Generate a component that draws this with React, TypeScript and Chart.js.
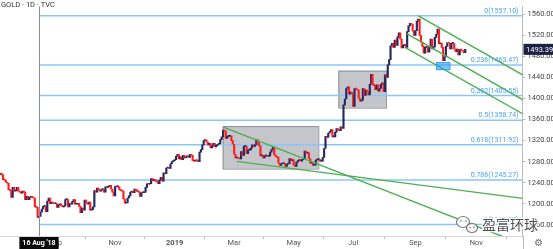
import React, { useEffect, useRef } from "react";
import { Chart, registerables } from "chart.js";

Chart.register(...registerables);

// ---------------- data ----------------
const SYMBOL_TITLE = "GOLD · 1D · TVC";
const START_DATE = "2018-07-09"; // first daily bar (weekdays only)
const FIRST_OPEN = 1256;
// daily closes, one per weekday from START_DATE
const CLOSES: number[] = [
  1258, 1255, 1246, 1245, 1241,
  1239, 1227, 1225, 1212, 1231,
  1224, 1225, 1231, 1224, 1222,
  1220, 1224, 1222, 1208, 1214,
  1208, 1212, 1213, 1212, 1211,
  1194, 1193, 1174, 1176, 1184,
  1190, 1195, 1195, 1185, 1205,
  1211, 1200, 1203, 1201, 1200,
  1200, 1193, 1198, 1200, 1196,
  1194, 1196, 1208, 1208, 1194,
  1201, 1199, 1204, 1208, 1199,
  1199, 1201, 1195, 1183, 1192,
  1188, 1207, 1202, 1199, 1203,
  1188, 1189, 1194, 1225, 1222,
  1230, 1226, 1224, 1227, 1227,
  1222, 1232, 1231, 1233, 1235,
  1228, 1222, 1215, 1233, 1232,
  1232, 1227, 1225, 1224, 1209,
  1201, 1202, 1211, 1215, 1222,
  1223, 1221, 1228, 1226, 1223,
  1222, 1214, 1221, 1221, 1222,
  1231, 1238, 1237, 1238, 1248,
  1244, 1246, 1243, 1242, 1238,
  1245, 1250, 1243, 1259, 1257,
  1268, 1269, 1267, 1276, 1280,
  1282, 1284, 1290, 1294, 1285,
  1289, 1284, 1292, 1287, 1289,
  1291, 1288, 1294, 1292, 1282,
  1281, 1283, 1282, 1280, 1298,
  1303, 1312, 1320, 1321, 1317,
  1312, 1315, 1306, 1310, 1315,
  1308, 1311, 1313, 1314, 1322,
  1327, 1340, 1338, 1324, 1328,
  1328, 1329, 1320, 1313, 1294,
  1287, 1287, 1286, 1285, 1299,
  1292, 1309, 1309, 1295, 1302,
  1302, 1306, 1312, 1309, 1312,
  1322, 1316, 1310, 1291, 1292,
  1287, 1291, 1291, 1290, 1291,
  1298, 1303, 1308, 1293, 1290,
  1288, 1277, 1273, 1276, 1276,
  1277, 1271, 1275, 1276, 1286,
  1282, 1284, 1273, 1271, 1279,
  1282, 1284, 1281, 1284, 1285,
  1300, 1296, 1297, 1286, 1277,
  1277, 1273, 1274, 1283, 1284,
  1284, 1281, 1281, 1288, 1305,
  1328, 1326, 1334, 1337, 1341,
  1327, 1327, 1336, 1343, 1341,
  1339, 1346, 1343, 1388, 1399,
  1419, 1422, 1408, 1412, 1409,
  1385, 1419, 1418, 1416, 1400,
  1395, 1397, 1419, 1406, 1416,
  1413, 1407, 1427, 1446, 1426,
  1425, 1417, 1426, 1414, 1419,
  1427, 1430, 1413, 1445, 1440,
  1464, 1474, 1500, 1505, 1497,
  1511, 1501, 1517, 1525, 1513,
  1496, 1501, 1503, 1497, 1527,
  1538, 1543, 1541, 1528, 1520,
  1529, 1547, 1551, 1520, 1507,
  1499, 1486, 1497, 1498, 1488,
  1498, 1513, 1494, 1498, 1516,
  1522, 1532, 1504, 1505, 1497,
  1472, 1479, 1499, 1506, 1505,
  1494, 1505, 1505, 1494, 1489,
  1494, 1483, 1493, 1492, 1490,
  1487, 1493.39,
];
const LAST_PRICE = 1493.39;

const FIB_RATIOS = ["0", "0.236", "0.382", "0.5", "0.618", "0.786", "1"];
const FIB_PRICES = [1557.1, 1463.47, 1405.55, 1358.74, 1311.92, 1245.27, 1160.37];
const FIB_START_DATE = "2018-08-16";

const CROSSHAIR_DATE = "2018-08-16";
const CROSSHAIR_LABEL = "16 Aug '18";

const PRICE_TICKS = [1160, 1200, 1240, 1280, 1320, 1360, 1400, 1440, 1480, 1520, 1560];
const TIME_TICK_DATES = ["2018-09-03", "2018-11-01", "2019-01-01", "2019-03-01", "2019-05-01", "2019-07-01", "2019-09-02", "2019-11-01"];
const TIME_TICK_LABELS = ["Sep", "Nov", "2019", "Mar", "May", "Jul", "Sep", "Nov"];

// trend lines: [bar, price, bar, price]
const WEDGE_UPPER = [161.2, 1345.7, 377.7, 1122.7];
const WEDGE_LOWER = [170.8, 1280.5, 377.7, 1210.3];
const CHANNEL_UPPER = [301.8, 1557.3, 377.7, 1444.6];
const CHANNEL_MID = [293.7, 1523.1, 377.7, 1397.4];
const CHANNEL_LOWER = [292.4, 1497.2, 377.7, 1370.7];

// rectangles: [bar1, price1, bar2, price2]
const GRAY_BOXES = [
  [160.7, 1347.6, 229.8, 1266.8],
  [244.3, 1452.9, 278.7, 1382.7],
];
const BLUE_BOX = [315.3, 1468.2, 324.9, 1454.7];

const WATERMARK = "盈富环球";

// axis ranges
const X_MIN = -0.18;
const X_MAX = 377.35;
const Y_MIN = 1138.75;
const Y_MAX = 1574.8;

// ---------------- styles ----------------
const UP = "#262a5e";
const DOWN = "#ff1e1e";
const FIB_COLOR = "rgba(140,198,248,1)";
const FIB_TEXT = "#4aa3ef";
const GREEN = "#4caf50";
const FONT = "Roboto, 'Liberation Sans', sans-serif";

function barIndex(dateStr: string): number {
  const start = Date.parse(START_DATE + "T00:00:00Z");
  const end = Date.parse(dateStr + "T00:00:00Z");
  let n = 0;
  for (let t = start; t < end; t += 86400000) {
    const wd = new Date(t).getUTCDay();
    if (wd !== 0 && wd !== 6) n++;
  }
  return n;
}

const decor = {
  id: "decor",
  beforeDatasetsDraw(chart: any) {
    const { ctx, chartArea: a, scales } = chart;
    const x = scales.x, y = scales.y;
    ctx.save();
    ctx.beginPath();
    ctx.rect(a.left, a.top, a.right - a.left, a.bottom - a.top);
    ctx.clip();
    for (const b of GRAY_BOXES) {
      const x1 = x.getPixelForValue(b[0]), x2 = x.getPixelForValue(b[2]);
      const y1 = y.getPixelForValue(b[1]), y2 = y.getPixelForValue(b[3]);
      ctx.fillStyle = "rgba(150,152,160,0.55)";
      ctx.fillRect(x1, y1, x2 - x1, y2 - y1);
      ctx.strokeStyle = "rgba(135,137,145,0.9)";
      ctx.lineWidth = 1;
      ctx.strokeRect(x1 + 0.5, y1 + 0.5, x2 - x1, y2 - y1);
    }
    ctx.restore();
  },
  afterDatasetsDraw(chart: any) {
    const { ctx, chartArea: a, scales } = chart;
    const x = scales.x, y = scales.y;
    ctx.save();
    // blue box
    {
      const b = BLUE_BOX;
      const x1 = x.getPixelForValue(b[0]), x2 = x.getPixelForValue(b[2]);
      const y1 = y.getPixelForValue(b[1]), y2 = y.getPixelForValue(b[3]);
      ctx.fillStyle = "rgba(33,150,243,0.55)";
      ctx.fillRect(x1, y1, x2 - x1, y2 - y1);
      ctx.strokeStyle = "rgba(33,150,243,0.9)";
      ctx.lineWidth = 1;
      ctx.strokeRect(x1, y1, x2 - x1, y2 - y1);
    }
    // crosshair
    const cx = Math.round(x.getPixelForValue(barIndex(CROSSHAIR_DATE))) + 0.5;
    ctx.strokeStyle = "#8a8d96";
    ctx.lineWidth = 1;
    ctx.beginPath();
    ctx.moveTo(cx, a.top);
    ctx.lineTo(cx, a.bottom);
    ctx.stroke();
    // fib labels
    ctx.font = `7px ${FONT}`;
    ctx.fillStyle = FIB_TEXT;
    ctx.textAlign = "right";
    ctx.textBaseline = "bottom";
    FIB_RATIOS.forEach((r, i) => {
      const py = y.getPixelForValue(FIB_PRICES[i]);
      ctx.fillText(`${r}(${FIB_PRICES[i].toFixed(2)})`, a.right - 4, py - 1);
    });
    ctx.restore();
  },
  afterDraw(chart: any) {
    const { ctx, chartArea: a, scales, width, height } = chart;
    const x = scales.x, y = scales.y;
    ctx.save();
    // separators
    ctx.strokeStyle = "#b8bbc2";
    ctx.lineWidth = 1;
    ctx.beginPath();
    ctx.moveTo(Math.round(a.right) + 0.5, a.bottom);
    ctx.lineTo(Math.round(a.right) + 0.5, height);
    ctx.stroke();
    // header
    ctx.font = `7.5px ${FONT}`;
    ctx.fillStyle = "#333";
    ctx.textAlign = "left";
    ctx.textBaseline = "middle";
    ctx.fillText(SYMBOL_TITLE, 1, 5);
    // last price label
    const py = y.getPixelForValue(LAST_PRICE);
    ctx.fillStyle = "#1c2045";
    ctx.fillRect(a.right + 1, py - 5.5, width - a.right - 1, 11);
    ctx.fillStyle = "#fff";
    ctx.font = `7.5px ${FONT}`;
    ctx.textAlign = "left";
    ctx.fillText(LAST_PRICE.toFixed(2), a.right + 3.5, py + 0.5);
    // crosshair time label
    const cx = x.getPixelForValue(barIndex(CROSSHAIR_DATE));
    ctx.font = `bold 7px ${FONT}`;
    const tw = ctx.measureText(CROSSHAIR_LABEL).width + 6;
    ctx.fillStyle = "#0b0b0b";
    ctx.fillRect(cx - tw / 2, a.bottom + 1, tw, height - a.bottom - 1);
    ctx.fillStyle = "#fff";
    ctx.textAlign = "center";
    ctx.fillText(CROSSHAIR_LABEL, cx, (a.bottom + height) / 2 + 0.5);
    // gear
    ctx.fillStyle = "#6a6d75";
    ctx.font = `10px 'DejaVu Sans'`;
    ctx.fillText("⚙", (a.right + width) / 2 + 1, (a.bottom + height) / 2 + 0.5);
    // watermark icon
    ctx.strokeStyle = "rgba(110,110,110,0.9)";
    ctx.lineWidth = 1.2;
    ctx.fillStyle = "rgba(255,255,255,0.85)";
    ctx.beginPath();
    ctx.ellipse(463, 222, 6.5, 5.5, 0, 0, Math.PI * 2);
    ctx.fill();
    ctx.stroke();
    ctx.beginPath();
    ctx.ellipse(472, 228, 5.5, 4.5, 0, 0, Math.PI * 2);
    ctx.fill();
    ctx.stroke();
    ctx.fillStyle = "rgba(110,110,110,0.9)";
    [[461, 221], [466, 221], [470, 227.5], [474, 227.5]].forEach(([px, pyy]) => {
      ctx.beginPath();
      ctx.arc(px, pyy, 0.8, 0, Math.PI * 2);
      ctx.fill();
    });
    // watermark text
    ctx.font = `14px 'Noto Sans CJK SC'`;
    ctx.textAlign = "left";
    ctx.textBaseline = "middle";
    ctx.lineWidth = 2.5;
    ctx.strokeStyle = "rgba(255,255,255,0.9)";
    ctx.strokeText(WATERMARK, 482, 225);
    ctx.fillStyle = "rgba(50,50,50,0.85)";
    ctx.fillText(WATERMARK, 482, 225);
    ctx.restore();
  },
};

function lineDs(seg: number[], color: string, width: number, order: number) {
  return {
    type: "line" as const,
    data: [
      { x: seg[0], y: seg[1] },
      { x: seg[2], y: seg[3] },
    ],
    borderColor: color,
    borderWidth: width,
    pointRadius: 0,
    fill: false,
    tension: 0,
    order,
  };
}

export default function App() {
  const ref = useRef<HTMLCanvasElement | null>(null);

  useEffect(() => {
    document.body.style.margin = "0";
    const canvas = ref.current;
    if (!canvas) return;

    const candles = CLOSES.map((c, i) => ({ x: i, y: [i === 0 ? FIRST_OPEN : CLOSES[i - 1], c] }));
    const fibStart = barIndex(FIB_START_DATE);
    const tickIdx = TIME_TICK_DATES.map(barIndex);

    const datasets: any[] = [
      {
        type: "bar",
        data: candles,
        backgroundColor: (c: any) => {
          const v = c.raw && c.raw.y;
          return v && v[1] >= v[0] ? UP : DOWN;
        },
        borderWidth: 0,
        barThickness: 1.5,
        minBarLength: 1,
        order: 2,
      },
      ...FIB_PRICES.map((p) => lineDs([fibStart, p, X_MAX + 1, p], FIB_COLOR, 1.5, 3)),
      lineDs(WEDGE_UPPER, GREEN, 1.4, 0),
      lineDs(WEDGE_LOWER, GREEN, 1.4, 0),
      lineDs(CHANNEL_UPPER, GREEN, 1.4, 0),
      lineDs(CHANNEL_MID, GREEN, 1.4, 0),
      lineDs(CHANNEL_LOWER, GREEN, 1.4, 0),
    ];

    const chart = new Chart(canvas, {
      type: "bar",
      data: { datasets },
      plugins: [decor],
      options: {
        responsive: false,
        animation: false,
        events: [],
        devicePixelRatio: 1,
        layout: { padding: 0 },
        plugins: { legend: { display: false }, tooltip: { enabled: false } },
        scales: {
          x: {
            type: "linear",
            min: X_MIN,
            max: X_MAX,
            offset: false,
            afterBuildTicks: (s: any) => {
              s.ticks = tickIdx.map((v) => ({ value: v }));
            },
            afterFit: (s: any) => {
              s.height = 13;
            },
            ticks: {
              autoSkip: false,
              maxRotation: 0,
              padding: 0,
              color: "#555",
              font: (c: any) => ({
                size: 7.5,
                family: FONT,
                weight: c.tick && c.tick.label === "2019" ? "bold" : "normal",
              }),
              callback: (v: any) => {
                const k = tickIdx.indexOf(v);
                return k >= 0 ? TIME_TICK_LABELS[k] : "";
              },
            },
            grid: { drawOnChartArea: false, drawTicks: true, tickLength: 3, color: "#b8bbc2" },
            border: { display: true, color: "#d6d8dc" },
          },
          y: {
            type: "linear",
            position: "right",
            min: Y_MIN,
            max: Y_MAX,
            afterBuildTicks: (s: any) => {
              s.ticks = PRICE_TICKS.map((v) => ({ value: v }));
            },
            afterFit: (s: any) => {
              s.width = 30.5;
            },
            ticks: {
              padding: 2,
              color: "#444",
              font: { size: 7.5, family: FONT },
              callback: (v: any) => Number(v).toFixed(2),
            },
            grid: { drawOnChartArea: false, drawTicks: true, tickLength: 3, color: "#b8bbc2" },
            border: { display: true, color: "#b8bbc2" },
          },
        },
      },
    } as any);

    return () => chart.destroy();
  }, []);

  return (
    <div style={{ width: 553, height: 249, position: "relative", background: "#fff" }}>
      <canvas ref={ref} width={553} height={249} style={{ display: "block" }} />
    </div>
  );
}
